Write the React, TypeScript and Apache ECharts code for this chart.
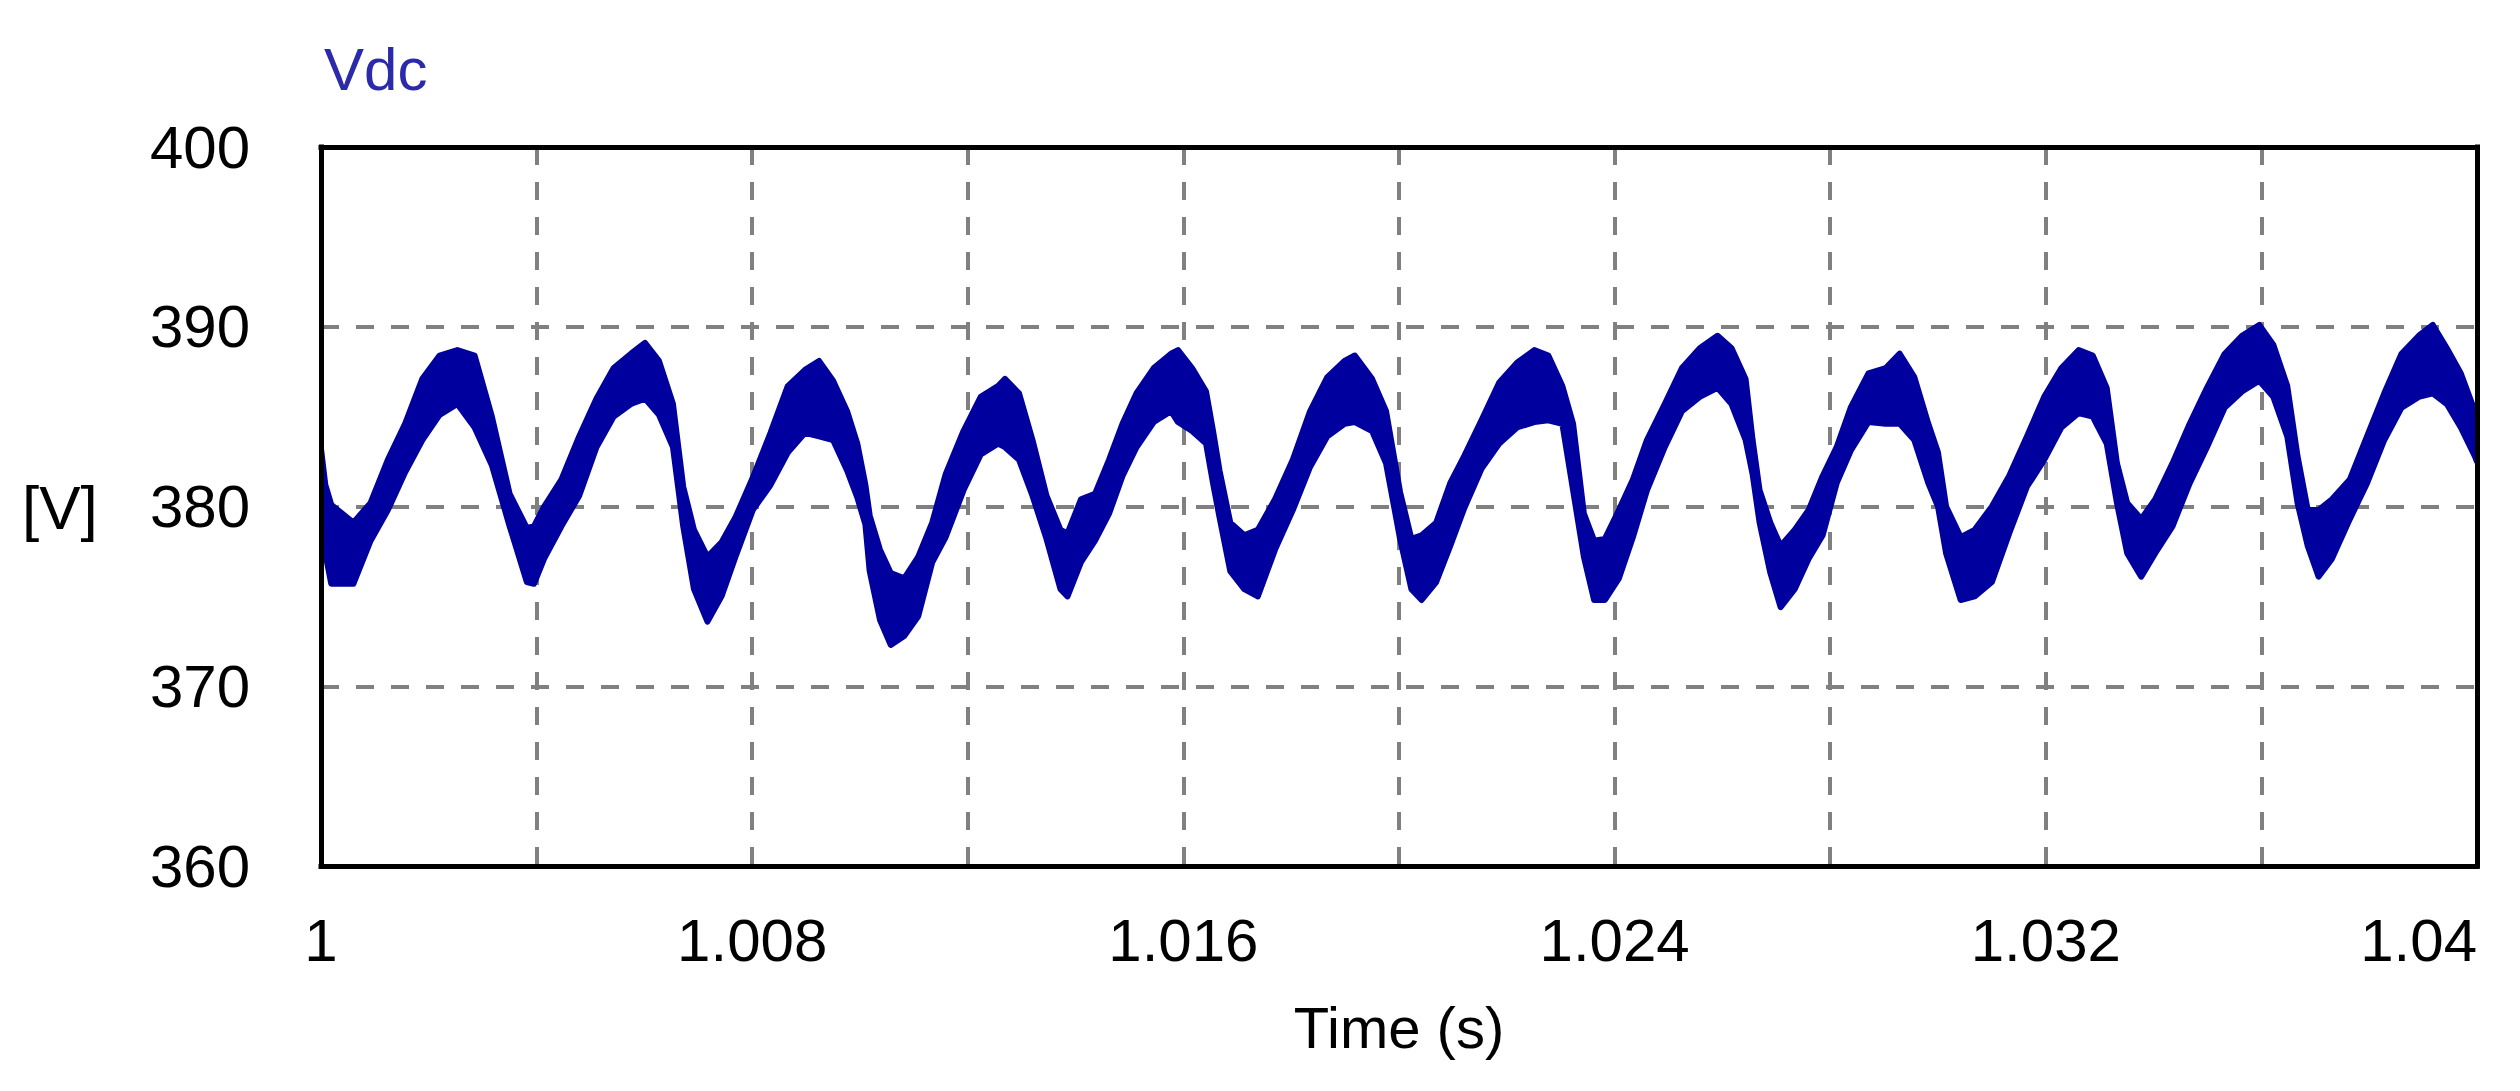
import React, { useEffect, useRef } from 'react';
import * as echarts from 'echarts';

// Time axis (s)
const times = [
  1.0, 1.00008, 1.00019, 1.0006, 1.00092, 1.00124, 1.00156, 1.00188, 1.0022, 1.00253,
  1.00285, 1.00317, 1.0035, 1.00382, 1.00395, 1.00414, 1.00446, 1.00479, 1.00511, 1.00543,
  1.00575, 1.00601, 1.00627, 1.00653, 1.00672, 1.00692, 1.00717, 1.00743, 1.00769, 1.00801,
  1.00834, 1.00866, 1.00898, 1.00924, 1.0095, 1.00976, 1.00995, 1.0101, 1.01018, 1.01037,
  1.01057, 1.01082, 1.01108, 1.01134, 1.01159, 1.01192, 1.01224, 1.01256, 1.01269, 1.01295,
  1.0132, 1.01346, 1.01372, 1.01385, 1.0141, 1.01436, 1.01462, 1.01487, 1.01513, 1.01545,
  1.01577, 1.0159, 1.01616, 1.01642, 1.01655, 1.01667, 1.01687, 1.01713, 1.01738, 1.0177,
  1.01803, 1.01835, 1.01867, 1.01899, 1.01918, 1.0195, 1.01976, 1.02002, 1.02023, 1.02042,
  1.02069, 1.02095, 1.02121, 1.02153, 1.02186, 1.02219, 1.02251, 1.02277, 1.02303, 1.02323,
  1.02343, 1.02362, 1.02382, 1.02408, 1.02434, 1.0246, 1.02493, 1.02525, 1.02558, 1.02591,
  1.02617, 1.02643, 1.02656, 1.02669, 1.02689, 1.02708, 1.02734, 1.0276, 1.02786, 1.02812,
  1.02838, 1.02871, 1.02903, 1.02929, 1.02956, 1.02982, 1.03, 1.03015, 1.03042, 1.03068,
  1.031, 1.03132, 1.03165, 1.03197, 1.03229, 1.03261, 1.03287, 1.03313, 1.03332, 1.03351,
  1.03377, 1.03403, 1.03435, 1.03467, 1.03499, 1.03532, 1.03564, 1.03596, 1.03622, 1.03648,
  1.03667, 1.03686, 1.03706, 1.03731, 1.03764, 1.03796, 1.03828, 1.0386, 1.03892, 1.03918,
  1.03944, 1.0397, 1.03996, 1.04,
];

// Upper edge of the Vdc band (V)
const upper = [
  383.2, 381.2, 380.1, 379.1, 380.2, 382.6, 384.6, 387.1, 388.4, 388.7,
  388.4, 385.0, 380.7, 378.8, 378.9, 380.0, 381.5, 383.9, 386.0, 387.7,
  388.5, 389.1, 388.1, 385.7, 381.1, 378.7, 377.2, 378.0, 379.4, 381.6,
  384.1, 386.7, 387.6, 388.1, 387.0, 385.3, 383.5, 381.2, 379.5, 377.6,
  376.3, 376.0, 377.2, 379.1, 381.8, 384.2, 386.1, 386.7, 387.1, 386.3,
  383.7, 380.6, 378.7, 378.5, 380.4, 380.7, 382.6, 384.6, 386.3, 387.7,
  388.5, 388.7, 387.7, 386.4, 384.2, 382.0, 379.1, 378.4, 378.7, 380.4,
  382.6, 385.3, 387.2, 388.1, 388.4, 387.1, 385.3, 380.8, 378.2, 378.4,
  379.1, 381.3, 382.8, 384.8, 386.9, 388.0, 388.7, 388.4, 386.7, 384.6,
  379.6, 378.1, 378.2, 379.8, 381.5, 383.7, 385.7, 387.7, 388.8, 389.5,
  388.8, 387.1, 383.7, 380.9, 379.1, 377.8, 378.7, 379.8, 381.7, 383.3,
  385.5, 387.4, 387.7, 388.5, 387.2, 384.6, 383.0, 380.0, 378.3, 378.7,
  380.0, 381.7, 383.9, 386.1, 387.7, 388.7, 388.4, 386.6, 382.4, 380.2,
  379.3, 380.4, 382.4, 384.6, 386.6, 388.5, 389.5, 390.1, 389.0, 386.7,
  382.8, 379.8, 379.8, 380.4, 381.5, 383.9, 386.3, 388.5, 389.5, 390.1,
  388.8, 387.4, 385.3, 385.0,
];

// Lower edge of the Vdc band (V)
const lower = [
  378.7, 377.4, 375.7, 375.7, 378.1, 379.8, 381.9, 383.7, 385.1, 385.7,
  384.4, 382.3, 378.9, 375.8, 375.7, 377.1, 378.9, 380.6, 383.3, 385.0,
  385.7, 386.0, 385.1, 383.3, 378.9, 375.4, 373.6, 375.0, 377.2, 379.8,
  381.2, 383.0, 384.1, 383.9, 383.7, 382.0, 380.5, 379.0, 376.4, 373.7,
  372.3, 372.8, 373.9, 376.9, 378.3, 380.9, 382.9, 383.5, 383.3, 382.6,
  380.6, 378.2, 375.4, 375.0, 376.9, 378.1, 379.6, 381.7, 383.3, 384.7,
  385.3, 384.7, 384.2, 383.5, 381.3, 379.4, 376.4, 375.4, 375.0, 377.6,
  379.8, 382.2, 383.9, 384.6, 384.7, 384.2, 382.4, 378.2, 375.4, 374.8,
  375.8, 377.8, 379.9, 382.1, 383.5, 384.4, 384.7, 384.8, 384.6, 380.9,
  377.2, 374.8, 374.8, 376.0, 378.3, 380.9, 383.3, 385.3, 386.1, 386.6,
  385.7, 383.7, 381.8, 379.1, 376.3, 374.4, 375.4, 377.1, 378.4, 381.3,
  383.1, 384.7, 384.6, 384.6, 383.7, 381.3, 380.0, 377.4, 374.8, 375.0,
  375.8, 378.5, 381.1, 382.6, 384.4, 385.2, 385.0, 383.5, 380.2, 377.4,
  376.1, 377.4, 378.9, 381.3, 383.3, 385.5, 386.4, 387.0, 386.1, 383.9,
  380.2, 377.8, 376.1, 377.1, 379.3, 381.3, 383.7, 385.5, 386.1, 386.3,
  385.7, 384.4, 382.8, 382.5,
];

const xLabelValues = [1, 1.008, 1.016, 1.024, 1.032, 1.04];
const yTickValues = [360, 370, 380, 390, 400];

const NAVY = '#00009E';
const FONT = "'Liberation Sans', Arial, sans-serif";

function buildOption(): any {
  const frameAxis = (pos: string) => ({
    type: 'value',
    position: pos,
    min: xLabelValues[0],
    max: xLabelValues[xLabelValues.length - 1],
    axisLine: { show: true, onZero: false, lineStyle: { color: '#000', width: 5, cap: 'square' } },
    axisTick: { show: false },
    axisLabel: { show: false },
    splitLine: { show: false },
    z: 5,
  });
  const frameYAxis = (pos: string) => ({
    type: 'value',
    position: pos,
    min: yTickValues[0],
    max: yTickValues[yTickValues.length - 1],
    axisLine: { show: true, onZero: false, lineStyle: { color: '#000', width: 5, cap: 'square' } },
    axisTick: { show: false },
    axisLabel: { show: false },
    splitLine: { show: false },
    z: 5,
  });

  return {
    animation: false,
    backgroundColor: '#ffffff',
    title: {
      text: 'Vdc',
      left: 319,
      top: 34,
      textStyle: { fontSize: 60, fontWeight: 'normal', color: '#2a2aaa', fontFamily: FONT },
    },
    grid: { left: 321, right: 43, top: 147, bottom: 225 },
    graphic: [
      {
        type: 'text',
        x: 22,
        y: 507,
        style: { text: '[V]', fontSize: 62, fill: '#000', fontFamily: FONT, verticalAlign: 'middle' },
      },
    ],
    xAxis: [
      {
        type: 'value',
        min: xLabelValues[0],
        max: xLabelValues[xLabelValues.length - 1],
        interval: 0.004,
        axisLine: { show: false },
        axisTick: { show: false },
        axisLabel: {
          fontSize: 60,
          color: '#000',
          fontFamily: FONT,
          margin: 44,
          showMinLabel: true,
          showMaxLabel: true,
          alignMaxLabel: 'right',
          formatter: (v: number) => {
            const r = Math.round(v * 1000) / 1000;
            return xLabelValues.includes(r) ? String(r) : '';
          },
        },
        splitLine: { show: true, lineStyle: { color: '#808080', width: 4, type: [18, 17] } },
        name: 'Time (s)',
        nameLocation: 'middle',
        nameGap: 132,
        nameTextStyle: { fontSize: 58, color: '#000', fontFamily: FONT },
      },
      frameAxis('bottom'),
      frameAxis('top'),
    ],
    yAxis: [
      {
        type: 'value',
        min: yTickValues[0],
        max: yTickValues[yTickValues.length - 1],
        interval: 10,
        axisLine: { show: false },
        axisTick: { show: false },
        axisLabel: { fontSize: 60, color: '#000', fontFamily: FONT, margin: 71 },
        splitLine: { show: true, lineStyle: { color: '#808080', width: 4, type: [18, 17] } },
      },
      frameYAxis('left'),
      frameYAxis('right'),
    ],
    series: [
      {
        type: 'custom',
        xAxisIndex: 0,
        yAxisIndex: 0,
        z: 3,
        clip: true,
        data: [[times[0], upper[0]]],
        renderItem: (_params: any, api: any) => {
          const pts: number[][] = [];
          for (let i = 0; i < times.length; i++) pts.push(api.coord([times[i], upper[i]]));
          for (let i = times.length - 1; i >= 0; i--) pts.push(api.coord([times[i], lower[i]]));
          return {
            type: 'polygon',
            shape: { points: pts },
            style: { fill: NAVY, stroke: NAVY, lineWidth: 6, lineJoin: 'round' },
          };
        },
      },
    ],
  };
}

export default function App() {
  const ref = useRef<HTMLDivElement>(null);
  useEffect(() => {
    if (!ref.current) return;
    const chart = echarts.init(ref.current, null, { renderer: 'svg' });
    chart.setOption(buildOption());
    return () => chart.dispose();
  }, []);
  return (
    <div
      ref={ref}
      style={{ position: 'fixed', left: 0, top: 0, width: 2520, height: 1091, background: '#fff' }}
    />
  );
}
